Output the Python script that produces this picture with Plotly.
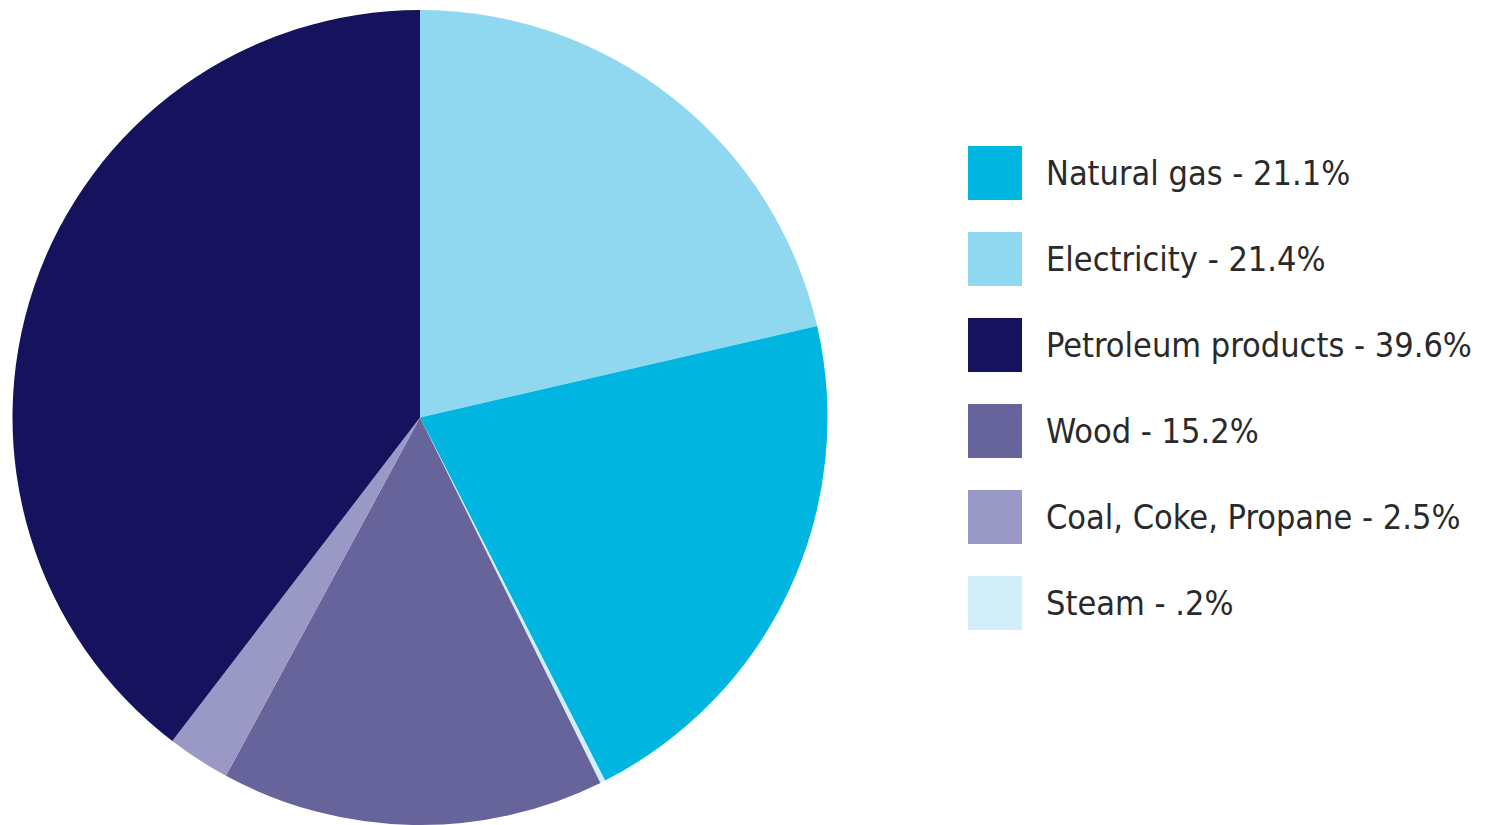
import plotly.graph_objects as go

W, H = 1511, 825

# Pie (clockwise from 12 o'clock)
pie_labels = ["Electricity", "Natural gas", "Steam", "Wood", "Coal, Coke, Propane", "Petroleum products"]
pie_values = [21.4, 21.1, 0.2, 15.2, 2.5, 39.6]
pie_colors = ["#8fd8f0", "#00b6e0", "#d2eff9", "#67649b", "#9a98c4", "#16125e"]

# Legend (its own order)
legend_labels = ["Natural gas - 21.1%", "Electricity - 21.4%", "Petroleum products - 39.6%",
                 "Wood - 15.2%", "Coal, Coke, Propane - 2.5%", "Steam - .2%"]
legend_colors = ["#00b6e0", "#8fd8f0", "#16125e", "#67649b", "#9a98c4", "#d2eff9"]

fig = go.Figure()
fig.add_trace(go.Pie(
    labels=pie_labels, values=pie_values, sort=False, direction="clockwise", rotation=0,
    marker=dict(colors=pie_colors, line=dict(color="white", width=0)),
    textinfo="none", hoverinfo="label+value", showlegend=False,
    domain=dict(x=[12 / W, 828 / W], y=[0, 1 - 10 / H]),
))

def px_x(x):
    return x / W

def px_y(y):
    return 1 - y / H

row0, step = 173, 86
for i, (lab, col) in enumerate(zip(legend_labels, legend_colors)):
    cy = row0 + i * step
    fig.add_shape(type="rect", xref="paper", yref="paper",
                  x0=px_x(968), x1=px_x(1022), y0=px_y(cy + 27), y1=px_y(cy - 27),
                  fillcolor=col, line=dict(width=0))
    fig.add_annotation(xref="paper", yref="paper", x=px_x(1044), y=px_y(cy),
                       xanchor="left", yanchor="middle", showarrow=False, text=lab,
                       font=dict(family="DejaVu Sans Condensed, sans-serif",
                                 size=34, color="#2a2a2a"))

fig.update_layout(width=W, height=H, margin=dict(l=0, r=0, t=0, b=0),
                  paper_bgcolor="white", plot_bgcolor="white")
fig.write_html("out.html")
